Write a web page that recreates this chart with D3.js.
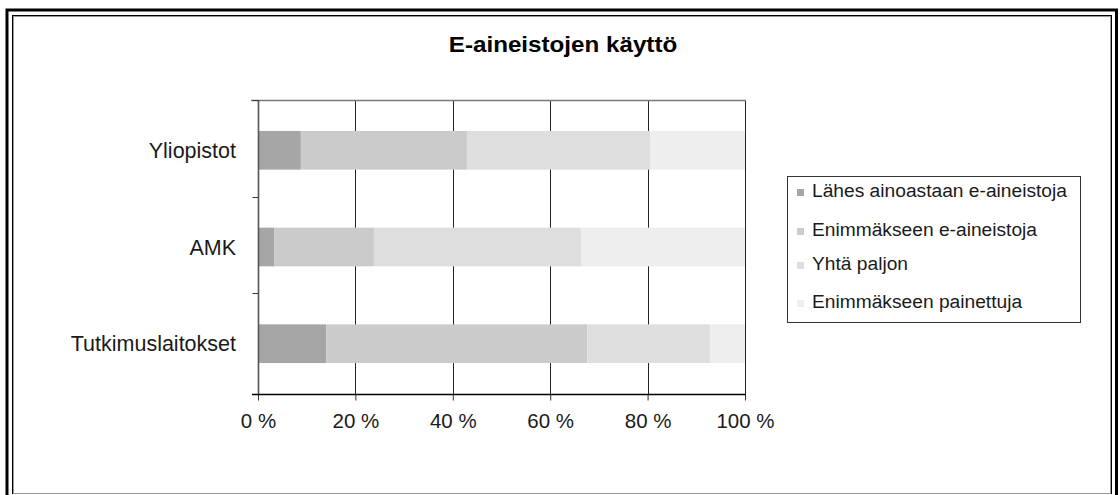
<!DOCTYPE html>
<html>
<head>
<meta charset="utf-8">
<script src="https://cdn.jsdelivr.net/npm/d3@7"></script>
<style>
  html, body { margin: 0; padding: 0; background: #fff; }
  svg { display: block; font-family: "Liberation Sans", Arial, sans-serif; }
</style>
</head>
<body>
<svg id="chart" width="1120" height="495"></svg>
<script>
const title = "E-aineistojen käyttö";
const categories = ["Yliopistot", "AMK", "Tutkimuslaitokset"];
const seriesNames = ["Lähes ainoastaan e-aineistoja", "Enimmäkseen e-aineistoja", "Yhtä paljon", "Enimmäkseen painettuja"];
const seriesColors = ["#a6a6a6", "#cbcbcb", "#dedede", "#eeeeee"];
const lahesAinoastaan = [8.8, 3.3, 14.0];
const enimmakseenE = [34.1, 20.5, 53.6];
const yhtaPaljon = [37.6, 42.5, 25.2];
const enimmakseenPainettuja = [19.5, 33.7, 7.2];
const xTicks = [0, 20, 40, 60, 80, 100];

const svg = d3.select("#chart");

// frame
svg.append("rect").attr("x", 7).attr("y", 10).attr("width", 1109.5).attr("height", 500)
  .attr("fill", "none").attr("stroke", "#000").attr("stroke-width", 3);
svg.append("rect").attr("x", 12.5).attr("y", 15.5).attr("width", 1099).attr("height", 478)
  .attr("fill", "none").attr("stroke", "#000").attr("stroke-width", 1);
svg.append("rect").attr("x", 13.5).attr("y", 16.5).attr("width", 1097).attr("height", 477)
  .attr("fill", "none").attr("stroke", "#999").attr("stroke-width", 1);

// title
svg.append("text").attr("transform", "translate(563,52) scale(1.1,1)")
  .attr("text-anchor", "middle").attr("font-weight", "bold").attr("font-size", 22)
  .attr("fill", "#000").text(title);

const x = d3.scaleLinear().domain([0, 100]).range([258, 745]);
const y = d3.scaleBand().domain(categories).range([100, 394]).paddingInner(0.6).paddingOuter(0.32);

const rows = categories.map((c, i) => ({
  cat: c,
  vals: [lahesAinoastaan[i], enimmakseenE[i], yhtaPaljon[i], enimmakseenPainettuja[i]]
}));
const keys = [0, 1, 2, 3];
const stackData = rows.map(r => { const o = { cat: r.cat }; keys.forEach(k => o[k] = r.vals[k]); return o; });
const stacked = d3.stack().keys(keys)(stackData);

// gridlines
svg.append("g").selectAll("line").data(xTicks).join("line")
  .attr("x1", d => Math.round(x(d)) + 0.5).attr("x2", d => Math.round(x(d)) + 0.5)
  .attr("y1", 100).attr("y2", 394).attr("stroke", "#222").attr("stroke-width", 1);

// top border
svg.append("line").attr("x1", 251).attr("x2", 746).attr("y1", 100.5).attr("y2", 100.5)
  .attr("stroke", "#777").attr("stroke-width", 1.5);

// bars
svg.append("g").selectAll("g").data(stacked).join("g")
  .attr("fill", (d, i) => seriesColors[i])
  .selectAll("rect").data(d => d).join("rect")
  .attr("x", d => x(d[0])).attr("width", d => x(d[1]) - x(d[0]))
  .attr("y", d => y(d.data.cat)).attr("height", y.bandwidth());

// y axis
const yAxisG = svg.append("g").attr("transform", "translate(258.5,0)");
yAxisG.append("line").attr("x1", 0).attr("x2", 0).attr("y1", 100).attr("y2", 394)
  .attr("stroke", "#555").attr("stroke-width", 1.6);
const boundaries = [100, 100 + y.step(), 100 + 2 * y.step(), 394];
yAxisG.selectAll("line.tk").data(boundaries).join("line").attr("class", "tk")
  .attr("x1", -6).attr("x2", 0).attr("y1", d => Math.round(d) + 0.5).attr("y2", d => Math.round(d) + 0.5)
  .attr("stroke", "#333");
svg.append("g").selectAll("text").data(categories).join("text")
  .attr("x", 236).attr("y", d => y(d) + y.bandwidth() / 2).attr("dy", "0.35em")
  .attr("text-anchor", "end").attr("font-size", 21.5).attr("fill", "#1a1a1a").text(d => d);

// x axis
const xAxis = d3.axisBottom(x).tickValues(xTicks).tickSize(6).tickFormat(d => d + " %");
const xg = svg.append("g").attr("transform", "translate(0,394.5)").call(xAxis);
xg.select(".domain").remove();
xg.append("line").attr("x1", 252).attr("x2", 746).attr("y1", 0).attr("y2", 0).attr("stroke", "#000").attr("stroke-width", 1.5);
xg.selectAll(".tick line").attr("stroke", "#333");
xg.selectAll(".tick text").attr("font-size", 20.5).attr("fill", "#1a1a1a").attr("y", 19).attr("dy", "0.71em")
  .attr("font-family", "\"Liberation Sans\", Arial, sans-serif");

// legend
const lg = svg.append("g");
lg.append("rect").attr("x", 787.5).attr("y", 176.5).attr("width", 293).attr("height", 146)
  .attr("fill", "#fff").attr("stroke", "#333").attr("stroke-width", 1);
const legendY = [197, 236, 270, 308];
const items = lg.selectAll("g.item").data(seriesNames).join("g").attr("class", "item");
items.append("rect").attr("x", 797).attr("y", (d, i) => legendY[i] - 8).attr("width", 7).attr("height", 7)
  .attr("fill", (d, i) => seriesColors[i]);
items.append("text").attr("x", 812).attr("y", (d, i) => legendY[i])
  .attr("font-size", 19.2).attr("fill", "#1a1a1a").text(d => d);
</script>
</body>
</html>
